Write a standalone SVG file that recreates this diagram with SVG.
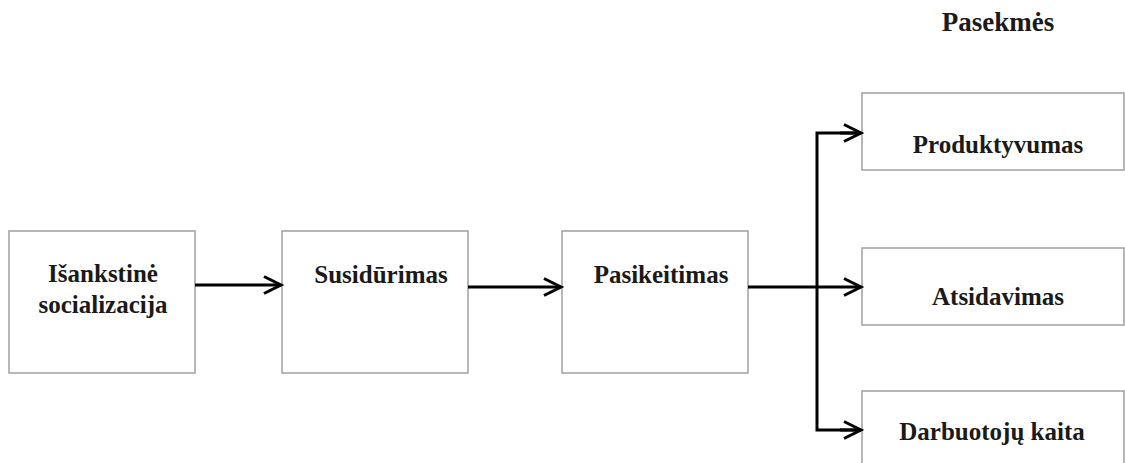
<svg xmlns="http://www.w3.org/2000/svg" width="1125" height="463" viewBox="0 0 1125 463">
<style>
.box{fill:#fff;stroke:#a0a0a0;stroke-width:1.5}
.t{font-family:"Liberation Serif","Times New Roman",serif;font-weight:bold;font-size:25px;fill:#1a1a1a;text-anchor:middle}
.c{fill:none;stroke:#000;stroke-width:3}
</style>
<defs>
<marker id="ah" markerUnits="userSpaceOnUse" markerWidth="24" markerHeight="24" refX="19" refY="10" orient="auto">
<path d="M2,1.5 L19,10 L2,18.5" fill="none" stroke="#000" stroke-width="3"/>
</marker>
</defs>
<rect width="1125" height="463" fill="#fff"/>
<text class="t" x="998" y="31" style="font-size:27px">Pasekmės</text>
<g id="n1"><rect class="box" x="9" y="231" width="186" height="142"/>
<text class="t" x="103" y="282">Išankstinė</text><text class="t" x="103" y="313">socializacija</text></g>
<g id="n2"><rect class="box" x="282" y="231" width="186" height="142"/>
<text class="t" x="381" y="283">Susidūrimas</text></g>
<g id="n3"><rect class="box" x="562" y="231" width="186" height="142"/>
<text class="t" x="661" y="283">Pasikeitimas</text></g>
<g id="n4"><rect class="box" x="862" y="93" width="262" height="77"/>
<text class="t" x="998" y="153">Produktyvumas</text></g>
<g id="n5"><rect class="box" x="862" y="248" width="262" height="77"/>
<text class="t" x="998" y="305">Atsidavimas</text></g>
<g id="n6"><rect class="box" x="862" y="391" width="262" height="80"/>
<text class="t" x="992" y="440">Darbuotojų kaita</text></g>
<g id="connectors">
<line class="c" x1="195" y1="285" x2="281" y2="285" marker-end="url(#ah)"/>
<line class="c" x1="468" y1="287" x2="561" y2="287" marker-end="url(#ah)"/>
<line class="c" x1="748" y1="287" x2="861" y2="287" marker-end="url(#ah)"/>
<polyline class="c" points="861,133 817,133 817,430 861,430"/>
<line class="c" x1="840" y1="133" x2="861" y2="133" marker-end="url(#ah)"/>
<line class="c" x1="840" y1="430" x2="861" y2="430" marker-end="url(#ah)"/>
</g>
</svg>
